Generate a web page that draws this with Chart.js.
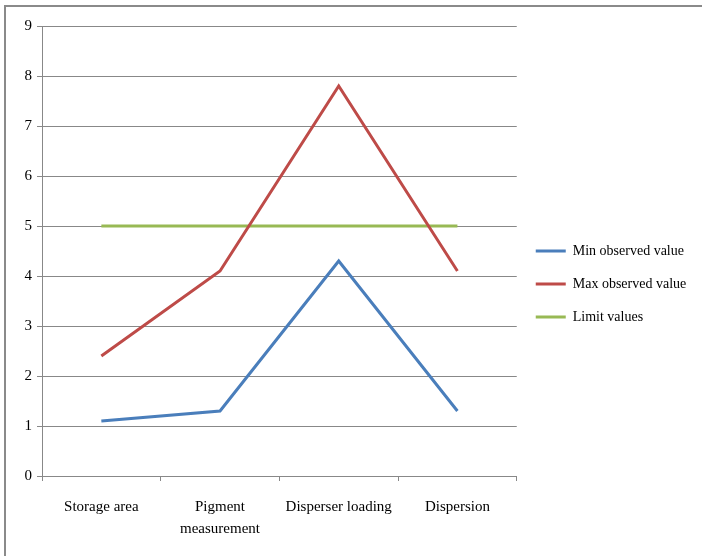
<!DOCTYPE html>
<html>
<head>
<meta charset="utf-8">
<script src="https://cdn.jsdelivr.net/npm/chart.js@4.4.1/dist/chart.umd.min.js"></script>
<style>
  html, body { margin: 0; padding: 0; background: #ffffff; }
  #frame {
    position: absolute; left: 4px; top: 5px;
    width: 698px; height: 551px;
    border-top: 2px solid #8a8a8a; border-left: 2px solid #8a8a8a;
    background: #ffffff;
  }
  canvas { display: block; }
</style>
</head>
<body>
<div id="frame"><canvas id="chart" width="698" height="551"></canvas></div>
<script>
// Process stages along the horizontal axis
const categories = ["Storage area", ["Pigment", "measurement"], "Disperser loading", "Dispersion"];
// Observed ranges and the limit for each stage
const minObserved = [1.1, 1.3, 4.3, 1.3];
const maxObserved = [2.4, 4.1, 7.8, 4.1];
const limitValues = [5, 5, 5, 5];
const yTicks = [0, 1, 2, 3, 4, 5, 6, 7, 8, 9];

const seriesNames = ["Min observed value", "Max observed value", "Limit values"];
const seriesColors = ["#4a7ebb", "#be4b48", "#98b954"];
const seriesData = [minObserved, maxObserved, limitValues];

const serif = "'Liberation Serif', 'Times New Roman', serif";
const gridColor = "#888888";

new Chart(document.getElementById("chart"), {
  type: "line",
  data: {
    labels: categories,
    datasets: seriesData.map((d, i) => ({
      label: seriesNames[i],
      data: d,
      borderColor: seriesColors[i],
      backgroundColor: seriesColors[i],
      borderWidth: 3,
      pointRadius: 0,
      pointHoverRadius: 0,
      tension: 0
    }))
  },
  options: {
    responsive: false,
    animation: false,
    layout: { padding: { left: 0, right: 17, top: 19, bottom: 16 } },
    plugins: {
      tooltip: { enabled: false },
      legend: {
        position: "right",
        align: "center",
        labels: {
          font: { family: serif, size: 14 },
          color: "#000000",
          boxWidth: 30,
          boxHeight: 3,
          padding: 19,
          generateLabels(chart) {
            return Chart.defaults.plugins.legend.labels.generateLabels(chart)
              .map(item => Object.assign(item, { lineWidth: 0 }));
          }
        }
      }
    },
    scales: {
      x: {
        offset: true,
        grid: {
          offset: true,
          drawOnChartArea: false,
          drawTicks: true,
          tickLength: 5,
          color: gridColor
        },
        border: { color: gridColor, width: 1 },
        ticks: {
          font: { family: serif, size: 15, lineHeight: 1.45 },
          color: "#000000",
          padding: 15,
          maxRotation: 0,
          autoSkip: false
        },
        afterFit(scale) { scale.height = 66; }
      },
      y: {
        min: 0,
        max: 9,
        afterBuildTicks(scale) { scale.ticks = yTicks.map(v => ({ value: v })); },
        grid: {
          color: gridColor,
          tickLength: 5,
          drawTicks: true
        },
        border: { color: gridColor, width: 1 },
        ticks: {
          font: { family: serif, size: 15 },
          color: "#000000",
          padding: 5
        },
        afterFit(scale) { scale.width = 36; }
      }
    }
  }
});
</script>
</body>
</html>
